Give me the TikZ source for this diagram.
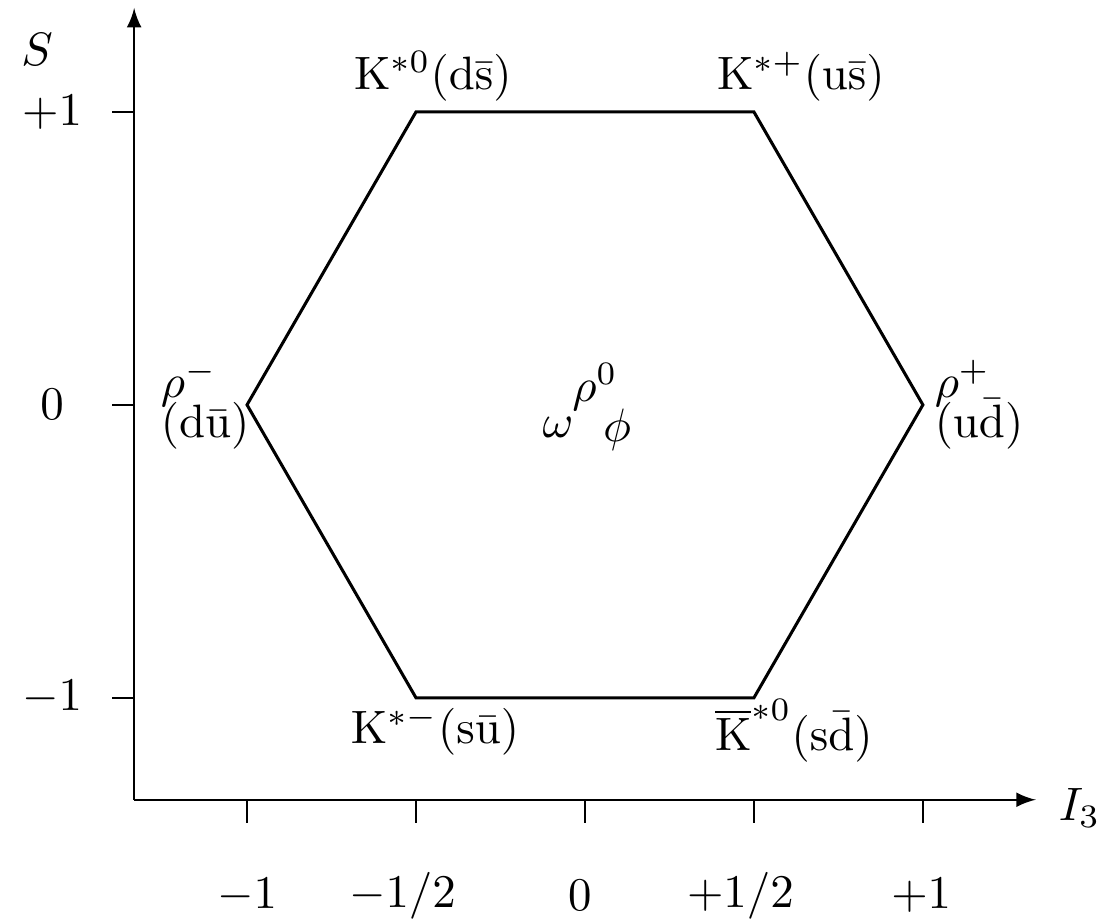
\documentclass[tikz,border=0pt]{standalone}
\begin{document}
\begin{tikzpicture}[x=2.535cm,y=2.1975cm]
\useasboundingbox (-1.731,-1.768) rectangle (1.530,1.382);
% axes
\coordinate (O) at (-1.334,-1.348);
\coordinate (Stip) at (-1.334,1.355);
\coordinate (Itip) at (1.334,-1.348);
\draw[-latex, line width=0.45pt] (O) -- (Stip);
\draw[-latex, line width=0.45pt] (O) -- (Itip);
\node (S) at (-1.621,1.212) {$S$};
\node (I3) at (1.464,-1.375) {$I_3$};

\foreach \x/\lx/\lab [count=\i] in {-1/-1/{-1}, -0.5/-0.54/{-1/2}, 0/-0.015/{0}, 0.5/0.46/{+1/2}, 1/0.995/{+1}} {
  \draw[line width=0.45pt] (\x,-1.348) -- (\x,-1.427);
  \node (xl\i) at (\lx,-1.676) {$\lab$};
}
\foreach \y/\lab [count=\i] in {1/{+1}, 0/{0}, -1/{-1}} {
  \draw[line width=0.45pt] (-1.399,\y) -- (-1.334,\y);
  \node (yl\i) at (-1.577,\y) {$\lab$};
}

% hexagon
\coordinate (v1) at (-0.5,1);
\coordinate (v2) at (0.5,1);
\coordinate (v3) at (1,0);
\coordinate (v4) at (0.5,-1);
\coordinate (v5) at (-0.5,-1);
\coordinate (v6) at (-1,0);
\draw[line width=0.65pt] (v1) -- (v2) -- (v3) -- (v4) -- (v5) -- (v6) -- cycle;

\node (Kzero) at (-0.45,1.12) {$\mathrm{K}^{*0}(\mathrm{d}\bar{\mathrm{s}})$};
\node (Kplus) at (0.639,1.12) {$\mathrm{K}^{*+}(\mathrm{u}\bar{\mathrm{s}})$};
\node (Kminus) at (-0.444,-1.113) {$\mathrm{K}^{*-}(\mathrm{s}\bar{\mathrm{u}})$};
\node (Kbar) at (0.618,-1.113) {$\overline{\mathrm{K}}^{*0}(\mathrm{s}\bar{\mathrm{d}})$};

\node[align=left, inner sep=0pt] (rhom) at (-1.124,0) {$\rho^-$\\[-3.5pt]$(\mathrm{d}\bar{\mathrm{u}})$};
\node[align=left, inner sep=0pt] (rhop) at (1.166,0) {$\rho^+$\\[-3.5pt]$(\mathrm{u}\bar{\mathrm{d}})$};

\node (rhoz) at (0.030,0.061) {$\rho^0$};
\node (omega) at (-0.080,-0.078) {$\omega$};
\node (phi) at (0.095,-0.085) {$\phi$};
\end{tikzpicture}
\end{document}
